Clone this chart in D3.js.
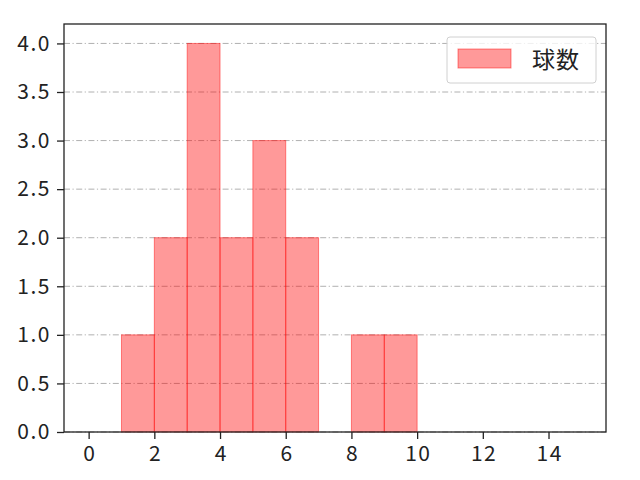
<!DOCTYPE html>
<html>
<head>
<meta charset="utf-8">
<script src="https://cdn.jsdelivr.net/npm/d3@7"></script>
<style>
  body { margin: 0; background: #fff; }
  svg { font-family: "Noto Sans CJK JP", "Noto Sans", sans-serif; }
</style>
</head>
<body>
<svg id="chart" width="640" height="480"></svg>
<script>
// histogram bins: [start, end) and counts
const binStarts = [1, 2, 3, 4, 5, 6, 8, 9];
const binEnds   = [2, 3, 4, 5, 6, 7, 9, 10];
const counts    = [1, 2, 4, 2, 3, 2, 1, 1];
const xTicks = [0, 2, 4, 6, 8, 10, 12, 14];
const yTicks = [0, 0.5, 1, 1.5, 2, 2.5, 3, 3.5, 4];
const seriesName = '球数';

const svg = d3.select('#chart');
const plotLeft = 64, plotRight = 606, plotTop = 24, plotBottom = 432;

const x = d3.scaleLinear().domain([-0.75, 15.75]).range([plotLeft, plotRight]);
const y = d3.scaleLinear().domain([0, 4.2]).range([plotBottom, plotTop]);

// grid
svg.append('g')
    .selectAll('line')
    .data(yTicks)
    .join('line')
    .attr('x1', plotLeft).attr('x2', plotRight)
    .attr('y1', d => y(d)).attr('y2', d => y(d))
    .attr('stroke', '#b0b0b0')
    .attr('stroke-width', 1)
    .attr('stroke-dasharray', '6,2.5,1.2,2.5');

// bars
const bins = binStarts.map((s, i) => ({ x0: s, x1: binEnds[i], n: counts[i] }));
svg.append('g')
    .selectAll('rect')
    .data(bins)
    .join('rect')
    .attr('x', d => x(d.x0))
    .attr('width', d => x(d.x1) - x(d.x0))
    .attr('y', d => y(d.n))
    .attr('height', d => y(0) - y(d.n))
    .attr('fill', 'rgba(255,0,0,0.4)')
    .attr('stroke', 'rgba(255,0,0,0.45)')
    .attr('stroke-width', 1);

// axes
const xAxis = svg.append('g')
    .attr('transform', `translate(0,${plotBottom})`)
    .call(d3.axisBottom(x).tickValues(xTicks).tickSize(7).tickPadding(7).tickFormat(d3.format('d')));
const yAxis = svg.append('g')
    .attr('transform', `translate(${plotLeft},0)`)
    .call(d3.axisLeft(y).tickValues(yTicks).tickSize(7).tickPadding(6).tickFormat(d3.format('.1f')));

[xAxis, yAxis].forEach(a => {
    a.select('.domain').remove();
    a.selectAll('.tick line').attr('stroke', '#222').attr('stroke-width', 1.3);
    a.selectAll('.tick text')
        .attr('fill', '#222')
        .style('font-size', '21px')
        .style('letter-spacing', '1.5px')
        .style('font-family', '"Noto Sans CJK JP", "Noto Sans", sans-serif');
});
// keep x labels centred despite trailing letter spacing
xAxis.selectAll('.tick text').attr('dx', '0.75px');

// frame
svg.append('rect')
    .attr('x', plotLeft).attr('y', plotTop)
    .attr('width', plotRight - plotLeft).attr('height', plotBottom - plotTop)
    .attr('fill', 'none')
    .attr('stroke', '#222')
    .attr('stroke-width', 1.3);

// legend
const legend = svg.append('g');
legend.append('rect')
    .attr('x', 447).attr('y', 37)
    .attr('width', 149).attr('height', 46)
    .attr('rx', 3)
    .attr('fill', 'rgba(255,255,255,0.8)')
    .attr('stroke', '#d0d0d0');
legend.append('rect')
    .attr('x', 458).attr('y', 49)
    .attr('width', 53).attr('height', 19)
    .attr('fill', 'rgba(255,0,0,0.4)')
    .attr('stroke', 'rgba(255,0,0,0.45)');
legend.append('text')
    .attr('x', 532).attr('y', 68)
    .attr('fill', '#222')
    .style('font-size', '23px')
    .style('letter-spacing', '1px')
    .text(seriesName);
</script>
</body>
</html>
